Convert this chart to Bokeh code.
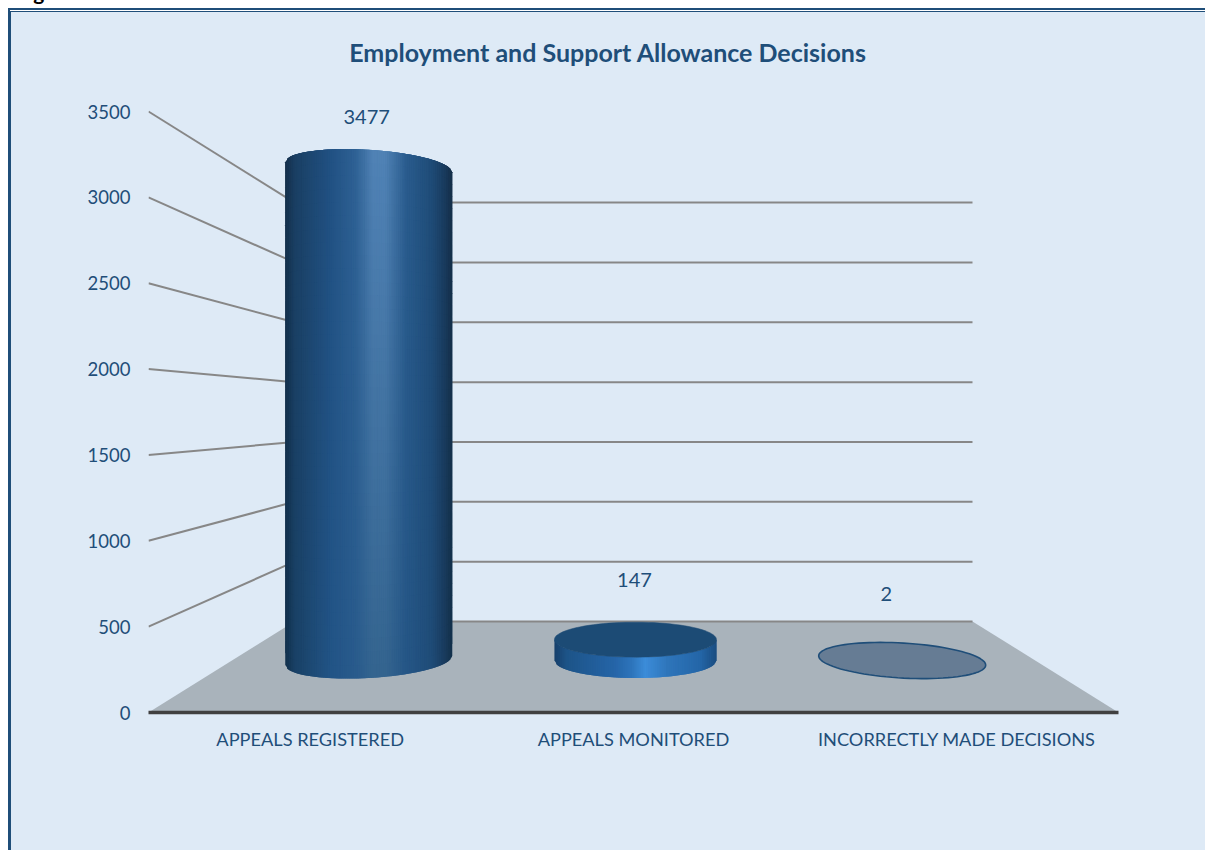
from bokeh.core.properties import value
from bokeh.embed import file_html
from bokeh.layouts import column
from bokeh.models import ColumnDataSource, Div, FactorRange, FixedTicker, LabelSet, Range1d
from bokeh.plotting import figure
from bokeh.resources import INLINE
import numpy as np

# Chart content
TITLE = "Employment and Support Allowance Decisions"
categories = ["APPEALS REGISTERED", "APPEALS MONITORED", "INCORRECTLY MADE DECISIONS"]
decisions = [3477, 147, 2]
value_ticks = [0, 500, 1000, 1500, 2000, 2500, 3000, 3500]

# Colours
PANEL = "#deeaf6"
NAVY = "#1f4e79"
FLOOR = "#a9b3bb"
WALL_LINE = "#878787"
FONT = "Lato"

# Page geometry, in pixels
W, H = 1205, 850
PANEL_X, PANEL_Y = 11, 12
LEFT, RIGHT, BOTTOM, ZERO_TOP = 148, 1118, 712, 111
FRAME_TOP = 30
PX_PER_CAT = (RIGHT - LEFT) / len(categories)
UNITS_PER_PX = 3500 / (BOTTOM - ZERO_TOP)

# Perspective of the box: how far the back wall sits and how much it shrinks
BACK_LIFT = 91 * UNITS_PER_PX
BACK_SCALE = 0.697
MID_LIFT = 52 * UNITS_PER_PX
MID_SCALE = 0.826
MID_SHIFT = 0.175
SEMI_Y = 17.5 * UNITS_PER_PX


def back_y(v):
    return BACK_LIFT + BACK_SCALE * v


back_left = 1.5 - 1.5 * (339 / 485)
back_right = 1.5 + 1.5 * (339 / 485)

p = figure(
    width=W - PANEL_X, height=H - PANEL_Y, output_backend="svg", toolbar_location=None,
    x_range=FactorRange(factors=categories, factor_padding=0, range_padding=0),
    y_range=Range1d(0, (BOTTOM - FRAME_TOP) * UNITS_PER_PX),
    min_border_left=LEFT - PANEL_X, min_border_right=W - RIGHT,
    min_border_top=FRAME_TOP - PANEL_Y, min_border_bottom=H - BOTTOM,
    background_fill_color=None, border_fill_color=None,
)
p.outline_line_color = None
p.grid.visible = False
p.margin = (PANEL_Y, 0, 0, PANEL_X)

# Panel colour, with a double rule along its top and a heavier rule down its left side
p.styles = {"background-color": PANEL,
            "box-shadow": f"0 0 0 1px {NAVY}, 0 -1px 0 1px white, 0 -1px 0 3px {NAVY}"}

# Caption of the page, running off its top edge
caption = Div(text="Fig", width=60, height=0, margin=0,
              styles={"position": "absolute", "left": "16px", "top": "-21px",
                      "font-family": FONT, "font-weight": "bold", "font-size": "21px",
                      "line-height": "26px", "color": "black"})

# Title, centred over the panel rather than over the plot frame
title_src = ColumnDataSource(dict(x=[(607.5 - LEFT) / PX_PER_CAT],
                                  y=[(BOTTOM - 51) * UNITS_PER_PX], text=[TITLE]))
p.add_layout(LabelSet(x="x", y="y", text="text", source=title_src, text_font=value(FONT),
                      text_font_style="bold", text_font_size="25px", text_color=NAVY,
                      text_align="center", text_baseline="middle"))

# Axes
p.xaxis.axis_line_color = "#404040"
p.xaxis.axis_line_width = 3.5
p.xaxis.major_tick_line_color = None
p.xaxis.minor_tick_line_color = None
p.xaxis.major_label_text_font = FONT
p.xaxis.major_label_text_font_size = "18.2px"
p.xaxis.major_label_text_color = NAVY
p.xaxis.major_label_standoff = 9
p.xaxis.major_label_orientation = "horizontal"

p.yaxis.ticker = FixedTicker(ticks=value_ticks)
p.yaxis.axis_line_color = None
p.yaxis.major_tick_line_color = None
p.yaxis.minor_tick_line_color = None
p.yaxis.major_label_text_font = FONT
p.yaxis.major_label_text_font_size = "18.5px"
p.yaxis.major_label_text_color = NAVY
p.yaxis.major_label_standoff = 12

# Floor of the box
p.patch([0, back_left, back_right, 3], [0, back_y(0), back_y(0), 0],
        fill_color=FLOOR, line_color=None)
p.line([back_left, back_right], [back_y(0)] * 2, line_color=WALL_LINE, line_width=2)

# Back wall rules and the side wall rules running out to the value axis
ticks = [t for t in value_ticks if t > 0]
p.multi_line([[back_left, back_right] for _ in ticks],
             [[back_y(t)] * 2 for t in ticks], line_color=WALL_LINE, line_width=2)
p.multi_line([[0, back_left] for _ in ticks],
             [[t, back_y(t)] for t in ticks], line_color=WALL_LINE, line_width=2)


def mix(stops, u):
    us = [s[0] for s in stops]
    return np.array([np.interp(u, us, [s[1][i] for s in stops]) for i in range(3)])


def rgb(hexes):
    return tuple(int(hexes[i:i + 2], 16) for i in (1, 3, 5))


def stops(pairs):
    return [(u, rgb(c)) for u, c in pairs]


TALL_TOP = stops([(-1, "#142f4a"), (-.88, "#1a3f63"), (-.45, "#215183"), (-.15, "#2f6295"),
                  (.05, "#5082b5"), (.2, "#5082b5"), (.45, "#2a5c8e"), (.75, "#1f4c78"),
                  (.92, "#193a5c"), (1, "#142e48")])
TALL_BASE = stops([(-1, "#12304c"), (-.88, "#194166"), (-.45, "#225486"), (-.15, "#295b8c"),
                   (.05, "#34648f"), (.2, "#34648f"), (.45, "#255686"), (.75, "#1f4c78"),
                   (.92, "#193a5c"), (1, "#12304a")])
SHORT_SIDE = stops([(-1, "#17406a"), (-.85, "#1d5488"), (-.25, "#2565a8"), (-.05, "#2d74ba"),
                    (.12, "#3c8cd9"), (.4, "#2e75ba"), (.8, "#2466a8"), (1, "#1a4d80")])
CAP = "#1c4b75"
FLAT = "#667c94"


def column_centre(i):
    c = i + 0.5
    return c + (1.5 - c) * MID_SHIFT + 0.006


def half_width(xc):
    return (81 + 3 * abs(xc - 1.5)) / PX_PER_CAT


def ellipse(xc, yc, half_w, tilt, n=90):
    t = np.linspace(0, 2 * np.pi, n)
    x = xc + half_w * np.cos(t)
    y = yc + SEMI_Y * np.sin(t) - tilt * np.cos(t)
    return x.tolist(), y.tolist()


# Columns: a shaded wall of small overlapping facets, capped where the top is visible
for i, v in enumerate(decisions):
    xc = column_centre(i)
    half_w = half_width(xc)
    y0 = MID_LIFT
    y1 = MID_LIFT + v * MID_SCALE
    base_tilt = 0.055 * (xc - 1.5) / 0.82 * 83 * UNITS_PER_PX
    top_tilt = base_tilt * (1 - 2.1 * v / max(decisions))

    if v < 20:
        x, y = ellipse(xc, y0, half_w, base_tilt)
        p.patch(x, y, fill_color=FLAT, line_color=NAVY, line_width=1.6)
        continue

    tall = v > 1000
    us = np.linspace(-1, 1, 91)
    rows = 40 if tall else 1

    def top(u):
        return y1 + SEMI_Y * np.sqrt(max(0, 1 - u * u)) * (1 if tall else -1) - top_tilt * u

    def low(u):
        return y0 - SEMI_Y * np.sqrt(max(0, 1 - u * u)) - base_tilt * u

    xs, ys, cols = [], [], []
    for k, (a, b) in enumerate(zip(us[:-1], us[1:])):
        over = min(1.0, b + (b - a))
        for r in range(rows):
            f0 = r / rows
            f1 = min(1.0, (r + 2) / rows)
            xs.append((xc + half_w * np.array([a, over, over, a])).tolist())
            ys.append([low(a) + f0 * (top(a) - low(a)), low(over) + f0 * (top(over) - low(over)),
                       low(over) + f1 * (top(over) - low(over)), low(a) + f1 * (top(a) - low(a))])
            mid = (a + b) / 2
            if tall:
                f = (r + 0.5) / rows
                c = mix(TALL_BASE, mid) * (1 - f) + mix(TALL_TOP, mid) * f
            else:
                c = mix(SHORT_SIDE, mid)
            cols.append("#%02x%02x%02x" % tuple(int(round(q)) for q in c))
    p.patches(xs, ys, fill_color=cols, line_color=None)
    if not tall:
        x, y = ellipse(xc, y1, half_w, top_tilt)
        p.patch(x, y, fill_color=CAP, line_color=CAP, line_width=0.5)

# Value labels floating above each column
label_shift_x = [-2, -1, -16]
label_lift = [50.5, 59.5, 66.5]
label_src = ColumnDataSource(dict(
    x=[column_centre(i) + label_shift_x[i] / PX_PER_CAT for i in range(len(decisions))],
    y=[MID_LIFT + v * MID_SCALE + label_lift[i] * UNITS_PER_PX for i, v in enumerate(decisions)],
    text=[str(v) for v in decisions],
))
p.add_layout(LabelSet(x="x", y="y", text="text", source=label_src, text_font=value(FONT),
                      text_font_size="20px", text_color=NAVY,
                      text_align="center", text_baseline="middle"))

page = column(caption, p, spacing=0, margin=0)
open("out.html", "w").write(file_html(page, INLINE))
